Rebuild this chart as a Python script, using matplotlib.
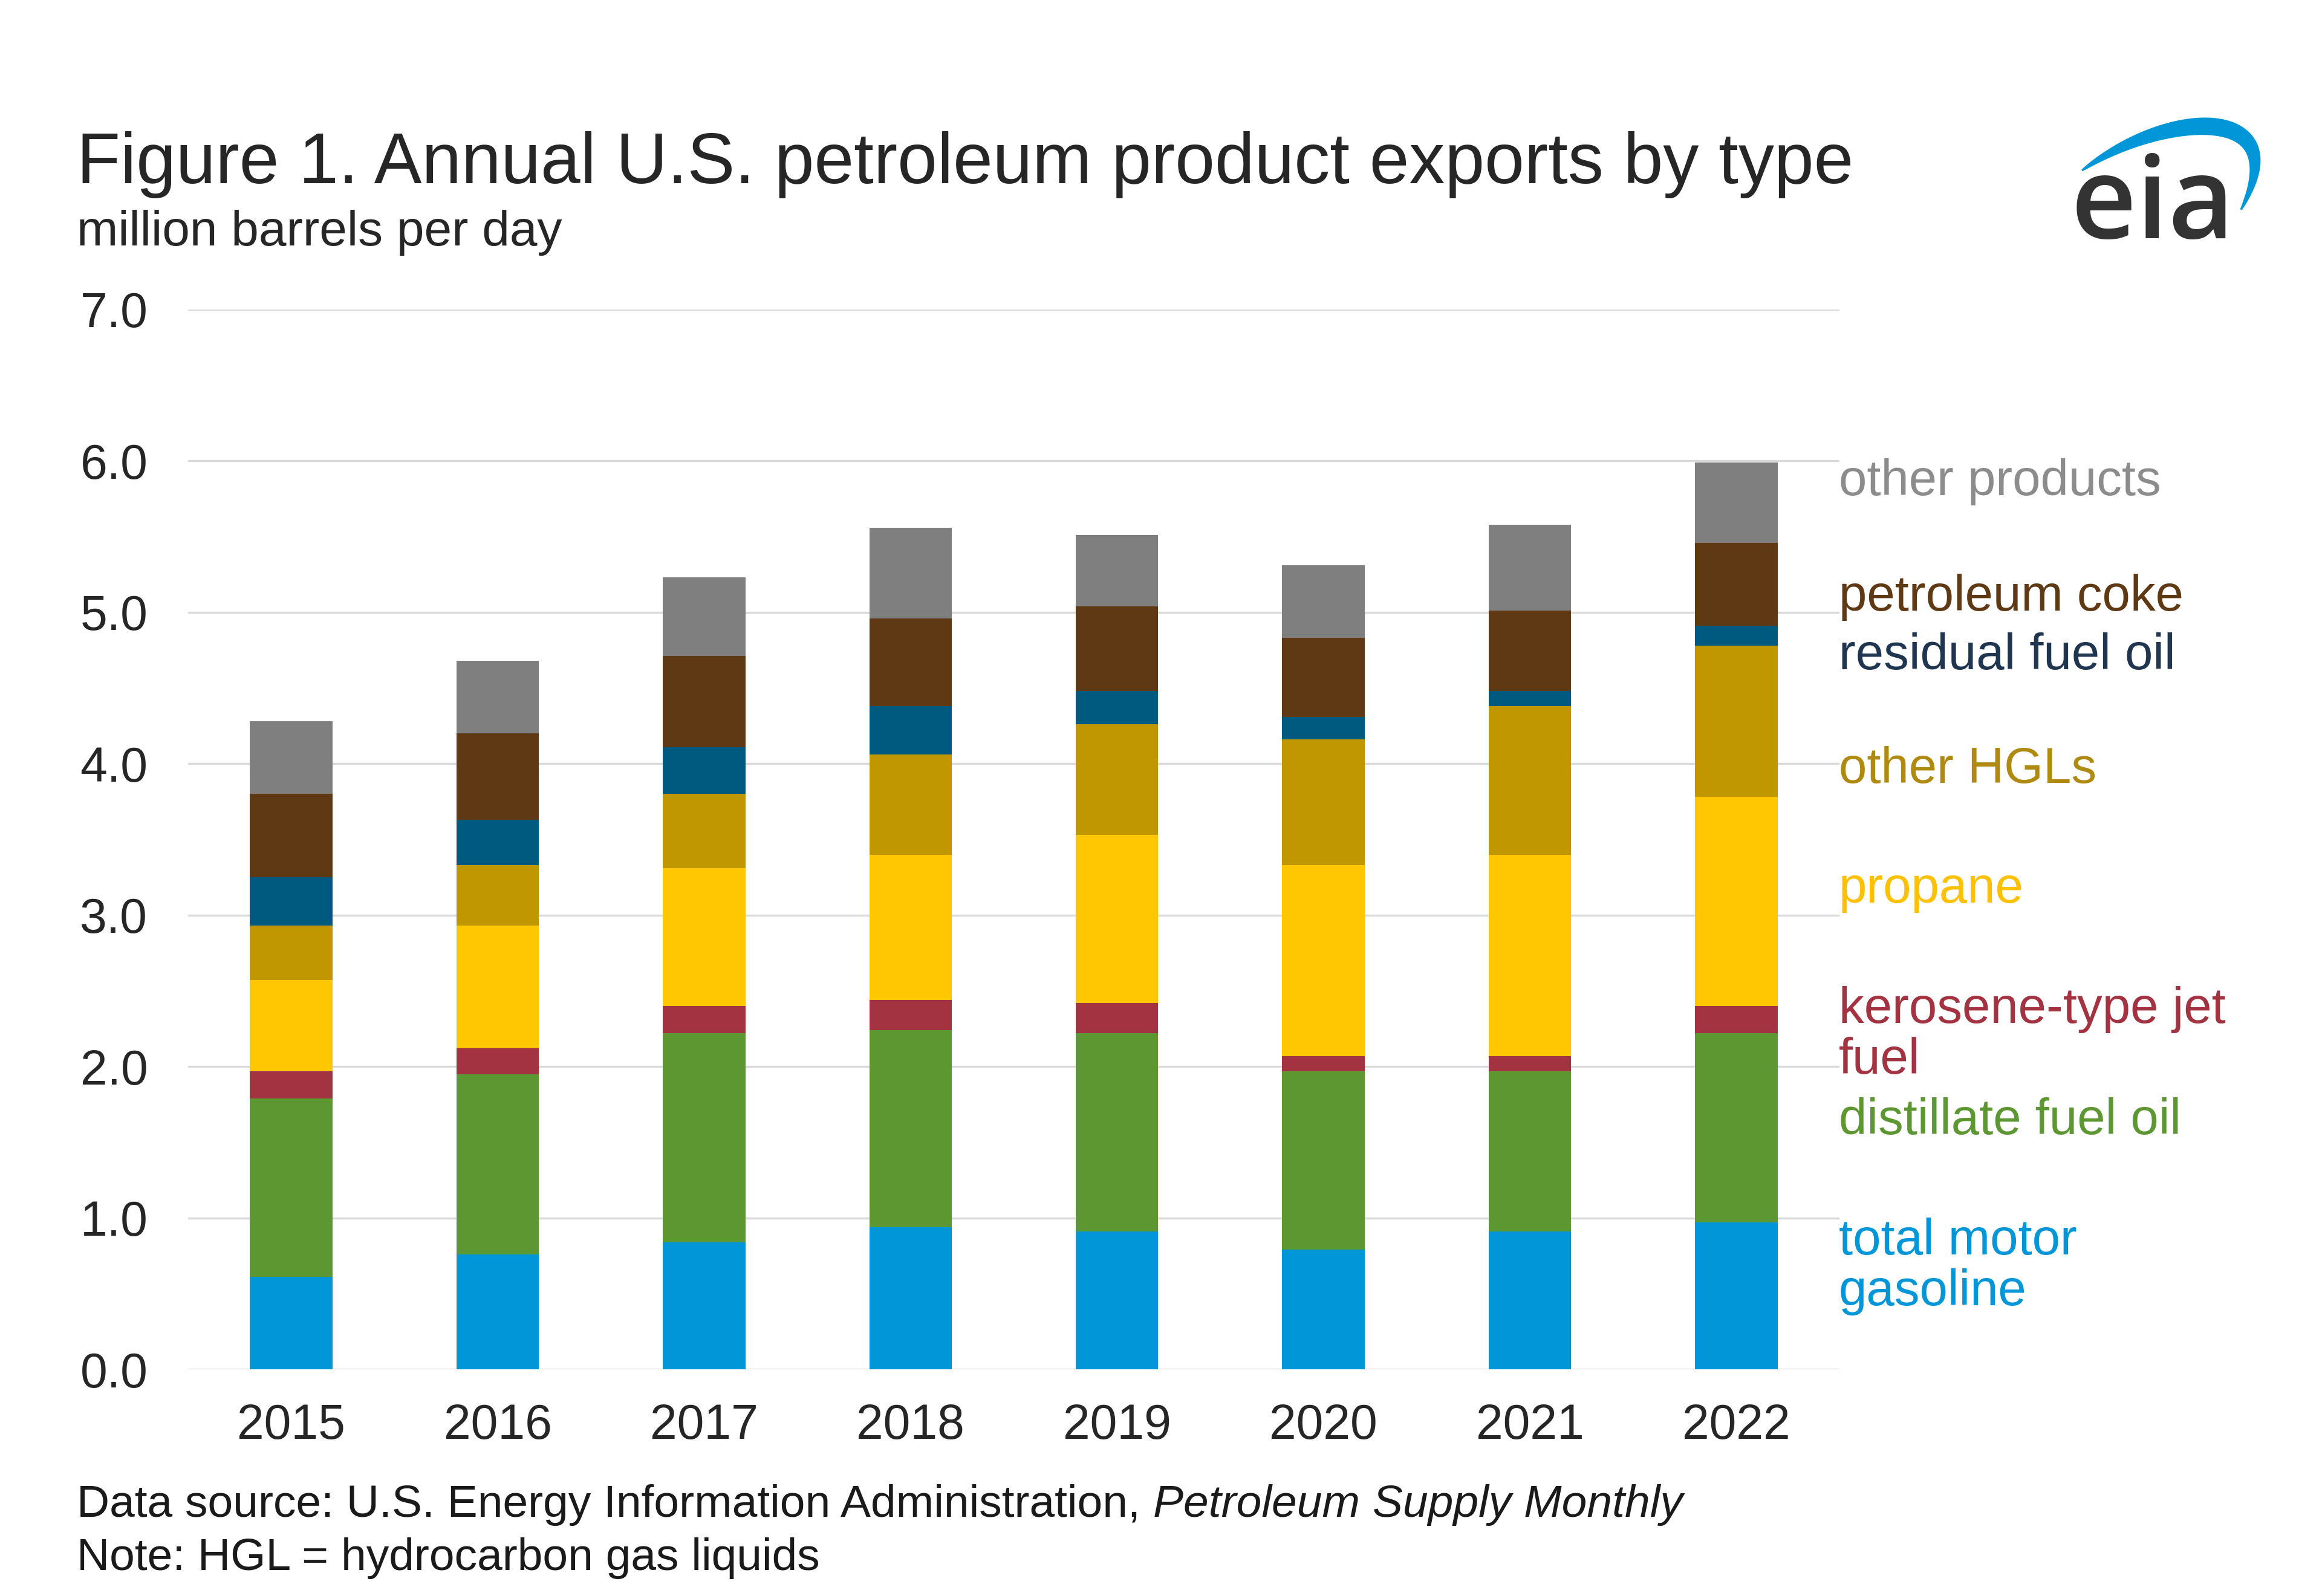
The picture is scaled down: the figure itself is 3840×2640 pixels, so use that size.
import numpy as np
import matplotlib
matplotlib.use("Agg")
import matplotlib.pyplot as plt
from matplotlib.patches import Polygon
from matplotlib.transforms import blended_transform_factory

plt.rcParams['font.family'] = ['Liberation Sans', 'DejaVu Sans']

# data (million barrels per day)
years = ['2015', '2016', '2017', '2018', '2019', '2020', '2021', '2022']
gasoline = [0.61, 0.76, 0.84, 0.94, 0.91, 0.79, 0.91, 0.97]
distillate = [1.18, 1.19, 1.38, 1.30, 1.31, 1.18, 1.06, 1.25]
jet_fuel = [0.18, 0.17, 0.18, 0.20, 0.20, 0.10, 0.10, 0.18]
propane = [0.60, 0.81, 0.91, 0.96, 1.11, 1.26, 1.33, 1.38]
other_hgls = [0.36, 0.40, 0.49, 0.66, 0.73, 0.83, 0.98, 1.00]
residual = [0.32, 0.30, 0.31, 0.32, 0.22, 0.15, 0.10, 0.13]
pet_coke = [0.55, 0.57, 0.60, 0.58, 0.56, 0.52, 0.53, 0.55]
other_products = [0.48, 0.48, 0.52, 0.60, 0.47, 0.48, 0.57, 0.53]

series = [
    (gasoline, '#0096D7'),
    (distillate, '#5D9732'),
    (jet_fuel, '#A33340'),
    (propane, '#FFC702'),
    (other_hgls, '#C19700'),
    (residual, '#005A80'),
    (pet_coke, '#5F3914'),
    (other_products, '#7F7F7F'),
]

# (label, y position in data units, text colour)
labels = [
    ('other products', 5.86, '#8C8C8C'),
    ('petroleum coke', 5.10, '#5F3914'),
    ('residual fuel oil', 4.71, '#1F3550'),
    ('other HGLs', 3.96, '#B08A10'),
    ('propane', 3.17, '#FFC000'),
    ('kerosene-type jet\nfuel', 2.21, '#A33340'),
    ('distillate fuel oil', 1.64, '#5D9732'),
    ('total motor\ngasoline', 0.68, '#0096D7'),
]

W, H = 3840, 2640
fig = plt.figure(figsize=(19.2, 13.2), dpi=200)
ax = fig.add_axes([311 / W, 1 - 2265 / H, (3042 - 311) / W, (2265 - 512) / H])

x = np.arange(len(years))
bottom = np.zeros(len(years))
for vals, col in series:
    ax.bar(x, vals, width=0.4, bottom=bottom, color=col, zorder=3)
    bottom += np.array(vals)

ax.set_xlim(-0.5, 7.5)
ax.set_ylim(0, 7)
ticks = np.arange(0, 7.5, 1.0)
ax.set_yticks(ticks)
ax.set_yticklabels([f'{v:.1f}' for v in ticks])
ax.set_xticks(x)
ax.set_xticklabels(years)
ax.grid(axis='y', color='#D9D9D9', linewidth=1.2, zorder=0)
for s in ax.spines.values():
    s.set_visible(False)
ax.tick_params(axis='both', length=0, labelsize=29, colors='#262626')
ax.tick_params(axis='y', pad=24)
ax.tick_params(axis='x', pad=20)

trans = blended_transform_factory(ax.transAxes, ax.transData)
for txt, yv, col in labels:
    ax.text(0.9995, yv, txt, transform=trans, color=col, fontsize=30,
            va='center', ha='left', linespacing=1.1)

# titles
fig.text(127 / W, 1 - 272 / H, 'Figure 1. Annual U.S. petroleum product exports by type',
         fontsize=42.5, color='#262626', va='center', ha='left')
fig.text(127 / W, 1 - 385 / H, 'million barrels per day', fontsize=29.5,
         color='#262626', va='center', ha='left')

# footer
src = fig.text(127 / W, 1 - 2490 / H, 'Data source: U.S. Energy Information Administration, ',
               fontsize=27, color='#1a1a1a', va='center', ha='left')
fig.add_artist(matplotlib.text.Annotation(
    'Petroleum Supply Monthly', xy=(1, 0.5), xycoords=src, va='center', ha='left',
    fontsize=27, style='italic', color='#1a1a1a', annotation_clip=False))
fig.text(127 / W, 1 - 2578 / H, 'Note: HGL = hydrocarbon gas liquids',
         fontsize=27, color='#1a1a1a', va='center', ha='left')

# eia logo
fig.text(3560 / W, 1 - 345 / H, 'eia', fontsize=68, fontweight='semibold',
         family=['Open Sans', 'DejaVu Sans'], color='#333333', ha='center', va='center')
p0, p1, p2, p3 = (np.array(p, float) for p in [(3443, 282), (3585, 180), (3800, 170), (3706, 347)])
t = np.linspace(0, 1, 80)[:, None]
c = (1 - t) ** 3 * p0 + 3 * (1 - t) ** 2 * t * p1 + 3 * (1 - t) * t ** 2 * p2 + t ** 3 * p3
d = -3 * (1 - t) ** 2 * p0 + 3 * (1 - 4 * t + 3 * t ** 2) * p1 + 3 * (2 * t - 3 * t ** 2) * p2 + 3 * t ** 2 * p3
n = np.column_stack([-d[:, 1], d[:, 0]])
n /= np.linalg.norm(n, axis=1)[:, None]
w = 13 * np.sin(np.pi * t[:, 0]) ** 0.8 + 1.5
pts = np.vstack([c + n * w[:, None], (c - n * w[:, None])[::-1]])
pts = np.column_stack([pts[:, 0] / W, 1 - pts[:, 1] / H])
fig.patches.append(Polygon(pts, closed=True, transform=fig.transFigure,
                           facecolor='#0096D7', edgecolor='none'))

fig.savefig('out.png', dpi=200, facecolor='white')
